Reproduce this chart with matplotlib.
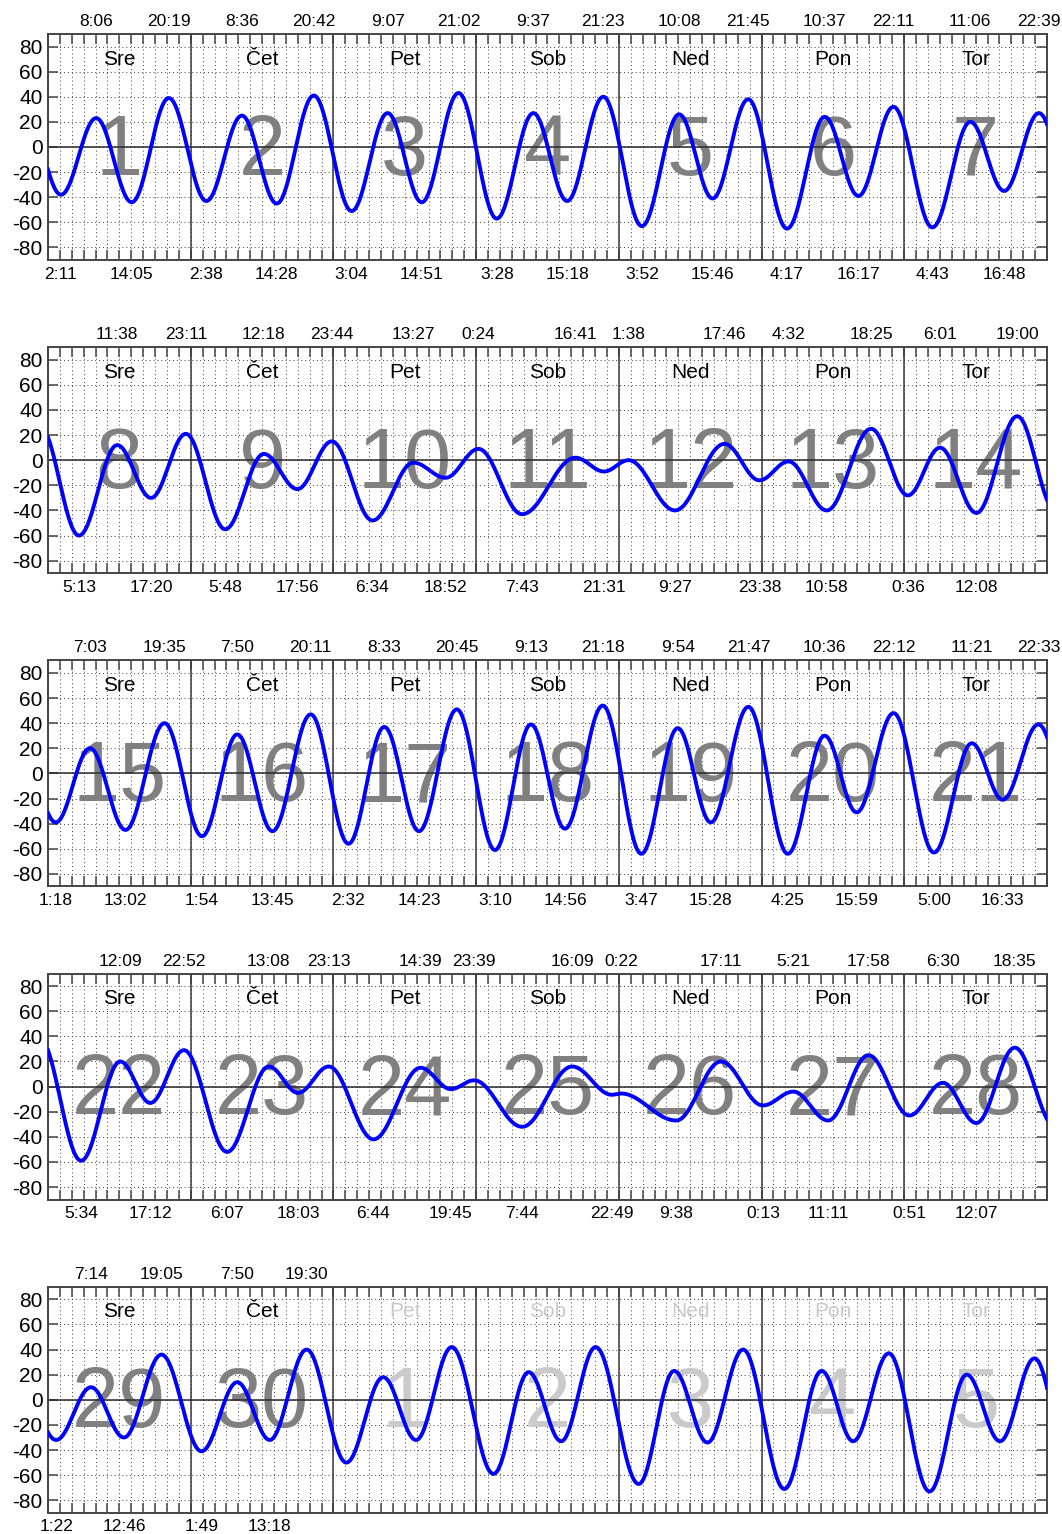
import numpy as np
import matplotlib.pyplot as plt
from matplotlib.ticker import MultipleLocator
from matplotlib.transforms import blended_transform_factory

plt.rcParams['font.family'] = ['Liberation Sans', 'DejaVu Sans']
plt.rcParams['axes.unicode_minus'] = False

# tide extremes
# day index: 0 = Sre 1., 30.. = next month (no time labels there)
ext_day = [-1,
           0, 0, 0, 0, 1, 1, 1, 1, 2, 2, 2, 2, 3, 3, 3, 3,
           4, 4, 4, 4, 5, 5, 5, 5, 6, 6, 6, 6,
           7, 7, 7, 7, 8, 8, 8, 8, 9, 9, 9, 10, 10, 10, 10,
           11, 11, 11, 11, 12, 12, 12, 13, 13, 13, 13,
           14, 14, 14, 14, 15, 15, 15, 15, 16, 16, 16, 16, 17, 17, 17, 17,
           18, 18, 18, 18, 19, 19, 19, 19, 20, 20, 20, 20,
           21, 21, 21, 21, 22, 22, 22, 22, 23, 23, 23, 23, 24, 24, 24,
           25, 25, 25, 26, 26, 26, 26, 27, 27, 27, 27,
           28, 28, 28, 28, 29, 29, 29, 29,
           30, 30, 30, 30, 31, 31, 31, 31, 32, 32, 32, 32,
           33, 33, 33, 33, 34, 34, 34, 34, 35]
ext_time = ['19:55',
            '2:11', '8:06', '14:05', '20:19', '2:38', '8:36', '14:28', '20:42',
            '3:04', '9:07', '14:51', '21:02', '3:28', '9:37', '15:18', '21:23',
            '3:52', '10:08', '15:46', '21:45', '4:17', '10:37', '16:17', '22:11',
            '4:43', '11:06', '16:48', '22:39',
            '5:13', '11:38', '17:20', '23:11', '5:48', '12:18', '17:56', '23:44',
            '6:34', '13:27', '18:52', '0:24', '7:43', '16:41', '21:31',
            '1:38', '9:27', '17:46', '23:38', '4:32', '10:58', '18:25',
            '0:36', '6:01', '12:08', '19:00',
            '1:18', '7:03', '13:02', '19:35', '1:54', '7:50', '13:45', '20:11',
            '2:32', '8:33', '14:23', '20:45', '3:10', '9:13', '14:56', '21:18',
            '3:47', '9:54', '15:28', '21:47', '4:25', '10:36', '15:59', '22:12',
            '5:00', '11:21', '16:33', '22:33',
            '5:34', '12:09', '17:12', '22:52', '6:07', '13:08', '18:03', '23:13',
            '6:44', '14:39', '19:45', '23:39', '7:44', '16:09', '22:49',
            '0:22', '9:38', '17:11', '0:13', '5:21', '11:11', '17:58',
            '0:51', '6:30', '12:07', '18:35',
            '1:22', '7:14', '12:46', '19:05', '1:49', '7:50', '13:18', '19:30',
            '2:10', '8:22', '13:54', '19:54', '2:55', '8:50', '14:18', '20:06',
            '3:20', '9:18', '14:54', '20:54', '3:50', '10:06', '15:24', '21:24',
            '4:15', '10:30', '16:06', '21:54', '4:36']
ext_cm = [36,
          -38, 23, -44, 39, -43, 25, -45, 41, -51, 27, -44, 43, -57, 27, -43, 40,
          -63, 26, -41, 38, -65, 24, -39, 32, -64, 20, -35, 27,
          -60, 12, -30, 21, -55, 5, -23, 15, -48, -2, -14, 9, -43, 2, -9,
          0, -40, 13, -16, -1, -40, 25, -28, 10, -42, 35,
          -39, 20, -45, 40, -50, 31, -46, 47, -56, 37, -46, 51, -61, 39, -44, 54,
          -64, 36, -39, 53, -64, 30, -31, 48, -63, 24, -21, 39,
          -59, 20, -13, 29, -52, 16, -5, 16, -42, 15, -2, 5, -32, 16, -6.5,
          -5.5, -27, 20, -15, -4, -27, 25, -23, 3, -29, 31,
          -32, 10, -30, 36, -41, 14, -32, 40,
          -50, 18, -32, 42, -59, 22, -33, 42, -67, 23, -34, 40,
          -71, 23, -33, 37, -73, 20, -33, 33, -72]

day_names = ['Sre', 'Čet', 'Pet', 'Sob', 'Ned', 'Pon', 'Tor']
day_numbers = list(range(1, 31)) + [1, 2, 3, 4, 5]
days_in_month = 30

hours = np.array([int(s.split(':')[0]) + int(s.split(':')[1]) / 60.0 for s in ext_time])
T = np.array(ext_day) + hours / 24.0
H = np.array(ext_cm, dtype=float)


def tide(t):
    # half-cosine between consecutive high / low waters
    j = np.clip(np.searchsorted(T, t) - 1, 0, len(T) - 2)
    f = (t - T[j]) / (T[j + 1] - T[j])
    return (H[j] + H[j + 1]) / 2 + (H[j] - H[j + 1]) / 2 * np.cos(np.pi * f)


W, Hpx = 1062, 1534
fig = plt.figure(figsize=(W / 100, Hpx / 100), dpi=100)

for k in range(5):
    top = 34 + 313.2 * k
    ax = fig.add_axes([48 / W, 1 - (top + 226) / Hpx, 999 / W, 226 / Hpx])
    t0 = 7 * k
    ax.set_xlim(0, 7)
    ax.set_ylim(-90, 90)
    ax.set_axisbelow(True)

    ax.xaxis.set_major_locator(MultipleLocator(1 / 12))
    ax.set_yticks(range(-80, 81, 20))
    ax.tick_params(axis='x', direction='in', top=True, bottom=True, length=7.5,
                   width=1.1, color='#444444', labelbottom=False)
    ax.tick_params(axis='y', direction='in', left=True, right=True, length=7.5,
                   width=1.1, color='#444444', labelsize=15, pad=4)
    ax.grid(True, linestyle=(0, (1, 3)), color='#3c3c3c', lw=0.7)
    for s in ax.spines.values():
        s.set_color('#444444')
        s.set_linewidth(1.4)

    for d in range(1, 7):
        ax.axvline(d, color='#3a3a3a', lw=1.1, zorder=2)
    ax.axhline(0, color='#2a2a2a', lw=1.1, zorder=2)

    for d in range(7):
        day = t0 + d
        grey = '#808080' if day < days_in_month else '#cacaca'
        name_c = 'black' if day < days_in_month else '#cacaca'
        ax.text(d + 0.5, -22, str(day_numbers[day]), fontsize=61, color=grey,
                ha='center', va='baseline', zorder=1)
        ax.text(d + 0.5, 70, day_names[d], fontsize=15, color=name_c,
                ha='center', va='center', zorder=1)

    t = np.linspace(t0, t0 + 7, 3000)
    ax.plot(t - t0, tide(t), color='#0000ff', lw=2.8, zorder=4)

    trans = blended_transform_factory(ax.transData, ax.transAxes)
    for i in range(len(T)):
        x = T[i] - t0
        if 0 <= x < 7 and 0 <= ext_day[i] < days_in_month:
            if i + 1 < len(H) and H[i] > H[i + 1]:
                ax.text(x, 1.055, ext_time[i], transform=trans, fontsize=12.5,
                        ha='center', va='center', clip_on=False)
            else:
                ax.text(x, -0.062, ext_time[i], transform=trans, fontsize=12.5,
                        ha='center', va='center', clip_on=False)

fig.savefig('out.png', dpi=100)
